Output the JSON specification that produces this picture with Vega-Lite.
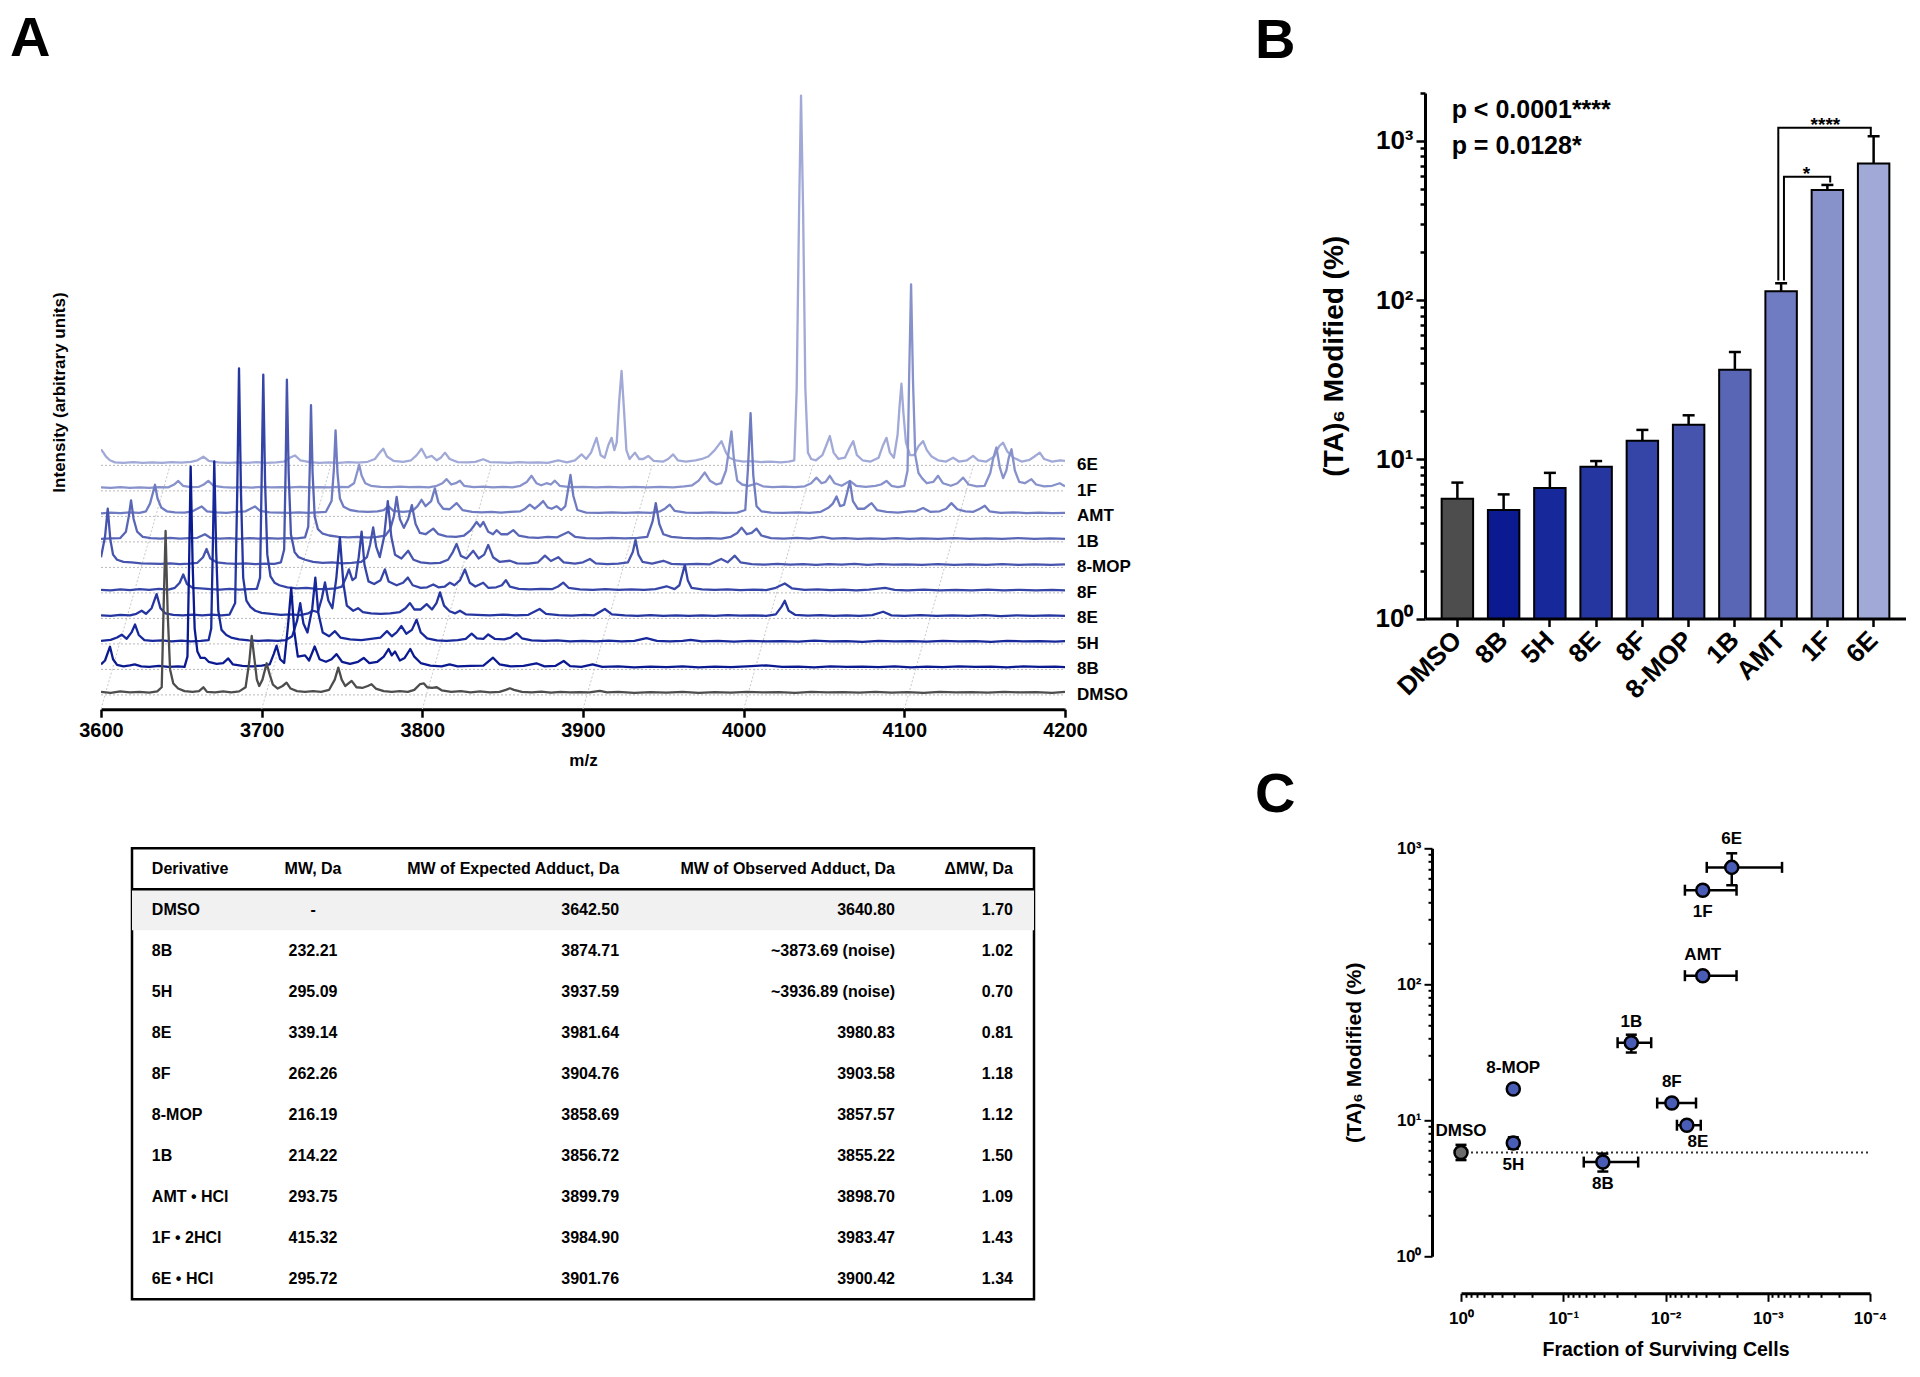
{
"$schema": "https://vega.github.io/schema/vega-lite/v6.json",
"background": "white",
"padding": {"left": 10, "top": 10, "right": 0, "bottom": 0},
"columns": 2,
"align": "each",
"bounds": "flush",
"center": {"row": false, "column": true},
"spacing": {"row": 138.3, "column": 360},
"config": {
  "font": "Liberation Sans",
  "view": {"stroke": null},
  "axis": {"labelFont": "Liberation Sans", "titleFont": "Liberation Sans", "labelColor": "black", "titleColor": "black", "grid": false, "domainColor": "black", "tickColor": "black", "labelFlush": false, "labelOverlap": false, "labelBound": false},
  "title": {"font": "Liberation Sans", "fontSize": 56, "fontWeight": "bold", "anchor": "start", "frame": "group", "color": "black", "baseline": "alphabetic"}
},
"datasets": {
  "base": [{"s":"DMSO","lvl":0},{"s":"8B","lvl":1},{"s":"5H","lvl":2},{"s":"8E","lvl":3},{"s":"8F","lvl":4},{"s":"8-MOP","lvl":5},{"s":"1B","lvl":6},{"s":"AMT","lvl":7},{"s":"1F","lvl":8},{"s":"6E","lvl":9}],
  "diag": [{"x1":3600,"y1":-0.56,"x2":3643,"y2":9},{"x1":3700,"y1":-0.56,"x2":3743,"y2":9},{"x1":3800,"y1":-0.56,"x2":3843,"y2":9},{"x1":3900,"y1":-0.56,"x2":3943,"y2":9},{"x1":4000,"y1":-0.56,"x2":4043,"y2":9},{"x1":4100,"y1":-0.56,"x2":4143,"y2":9},{"x1":4200,"y1":-0.56,"x2":4243,"y2":9}],
  "spec": [
    {"s":"6E","p":[[3600,9.63],[3601.5,9.5],[3603,9.35],[3605.5,9.2],[3608.7,9.12],[3614,9.1],[3620,9.13],[3626,9.1],[3632,9.12],[3638,9.1],[3644,9.13],[3650,9.11],[3656,9.14],[3660,9.2],[3663.7,9.34],[3667,9.18],[3673,9.12],[3679,9.1],[3685,9.12],[3691,9.1],[3697,9.13],[3703,9.1],[3709,9.12],[3714,9.15],[3717.5,9.3],[3720.7,9.39],[3724,9.2],[3730,9.13],[3736,9.1],[3742,9.12],[3748,9.1],[3754,9.13],[3760,9.11],[3766,9.14],[3770.5,9.25],[3773.5,9.5],[3775.7,9.65],[3778,9.35],[3782,9.18],[3788,9.14],[3793,9.2],[3796.5,9.4],[3799.5,9.65],[3802.5,9.3],[3805.8,9.37],[3809,9.2],[3811.5,9.3],[3814.1,9.5],[3817,9.25],[3822,9.13],[3828,9.12],[3833,9.14],[3837.9,9.24],[3842,9.13],[3848,9.12],[3854,9.1],[3860,9.13],[3866,9.11],[3872,9.12],[3878,9.1],[3884.6,9.2],[3890,9.12],[3895,9.2],[3899.1,9.43],[3902,9.25],[3905,9.5],[3908.4,10.08],[3911,9.4],[3913.5,9.3],[3915.8,9.8],[3917.8,10.08],[3919.5,9.6],[3921,9.9],[3922.5,11.5],[3924,12.7],[3925.5,11.2],[3927,9.6],[3929,9.25],[3932.3,9.5],[3935,9.25],[3937.5,9.25],[3940.6,9.37],[3944,9.18],[3950,9.15],[3953,9.25],[3956.1,9.43],[3959,9.2],[3964,9.15],[3970,9.2],[3974,9.25],[3978,9.35],[3982,9.6],[3986.2,9.95],[3989,9.5],[3991,9.3],[3995,9.2],[4000,9.15],[4005,9.17],[4011,9.13],[4017,9.15],[4023,9.12],[4028,9.15],[4031.5,9.2],[4033,12],[4034.5,19],[4035.7,23.5],[4037,19],[4038.4,12],[4040,9.5],[4042,9.25],[4045,9.2],[4049,9.4],[4051.5,9.8],[4053.6,10.15],[4056,9.5],[4059,9.25],[4063,9.3],[4066,9.7],[4068.2,9.95],[4070.5,9.4],[4074,9.2],[4079,9.15],[4084,9.3],[4086.8,9.8],[4088.9,10.08],[4091,9.5],[4093.5,9.3],[4095.8,10.2],[4097,11.3],[4098.2,12.2],[4099.5,11.0],[4101,9.9],[4103.5,9.4],[4106,9.4],[4108.8,9.75],[4111.7,9.95],[4114,9.6],[4117,9.35],[4121,9.2],[4126,9.15],[4130.4,9.3],[4134,9.15],[4139,9.2],[4142.8,9.37],[4146,9.2],[4151,9.15],[4156,9.35],[4159,9.75],[4161.5,9.89],[4164,9.55],[4168,9.3],[4173,9.15],[4178,9.22],[4181,9.35],[4184.3,9.5],[4187,9.25],[4192,9.15],[4197,9.2],[4200,9.18]]},
    {"s":"1F","p":[[3600,8.14],[3606,8.12],[3612,8.15],[3618,8.12],[3624,8.14],[3630,8.12],[3636,8.15],[3642,8.14],[3645.5,8.25],[3648.1,8.39],[3651,8.2],[3656,8.15],[3661,8.16],[3664,8.25],[3666.8,8.39],[3670,8.2],[3676,8.15],[3682,8.13],[3688,8.15],[3694,8.13],[3700,8.16],[3706,8.14],[3712,8.15],[3718,8.14],[3724,8.16],[3730,8.14],[3736,8.15],[3742,8.14],[3748,8.16],[3754,8.15],[3757.5,8.3],[3759.3,8.7],[3760.7,9.02],[3762.2,8.6],[3764.5,8.3],[3768,8.2],[3774,8.16],[3780,8.15],[3786,8.17],[3792,8.15],[3798,8.16],[3804,8.14],[3809,8.2],[3812.5,8.3],[3815.1,8.46],[3818,8.25],[3820.8,8.3],[3823.4,8.4],[3826,8.2],[3832,8.15],[3838,8.17],[3844,8.14],[3850,8.16],[3856,8.14],[3861,8.2],[3865,8.35],[3868,8.59],[3871,8.3],[3874,8.22],[3877.3,8.3],[3880,8.25],[3882.5,8.4],[3885.5,8.2],[3892,8.15],[3900,8.16],[3908,8.14],[3916,8.16],[3924,8.14],[3932,8.16],[3940,8.14],[3948,8.16],[3956,8.14],[3963,8.18],[3968,8.22],[3972,8.4],[3975.8,8.72],[3979,8.4],[3983,8.25],[3986,8.3],[3989,8.8],[3990.8,9.6],[3992.4,10.33],[3994,9.2],[3996,8.4],[3999,8.25],[4003,8.2],[4008,8.29],[4012,8.18],[4018,8.15],[4025,8.17],[4032,8.15],[4038,8.18],[4042,8.3],[4045.3,8.52],[4048.5,8.3],[4051,8.35],[4053.6,8.59],[4056.5,8.3],[4061,8.2],[4066.1,8.39],[4070,8.2],[4076,8.16],[4082,8.2],[4085.5,8.25],[4088.9,8.39],[4092,8.2],[4096,8.15],[4100,8.2],[4102,8.8],[4103,12.5],[4104.2,16.1],[4105.4,12.3],[4106.8,9.4],[4108.8,8.7],[4111,8.5],[4114,8.3],[4118,8.35],[4121,8.59],[4124,8.3],[4129,8.2],[4133,8.3],[4136.6,8.52],[4140,8.25],[4145,8.18],[4150,8.2],[4153.5,8.7],[4155.4,9.3],[4157.3,9.7],[4159.5,8.9],[4161.5,8.5],[4163.5,8.8],[4165,9.3],[4166.7,9.63],[4168.8,8.8],[4171.5,8.35],[4175,8.3],[4179.1,8.46],[4182,8.25],[4187,8.18],[4192,8.2],[4196.7,8.3],[4200,8.18]]},
    {"s":"AMT","p":[[3600,7.12],[3606,7.15],[3612,7.13],[3618,7.16],[3624,7.14],[3628,7.2],[3630.5,7.5],[3632.2,7.9],[3633.6,8.24],[3635.2,7.7],[3637.5,7.35],[3641,7.2],[3646,7.16],[3652,7.15],[3657,7.2],[3662.6,7.39],[3666,7.2],[3672,7.16],[3678,7.14],[3684,7.18],[3690,7.2],[3695.8,7.39],[3699,7.22],[3705,7.16],[3711,7.15],[3717,7.14],[3723,7.16],[3729,7.14],[3735,7.16],[3740,7.18],[3743.5,7.6],[3744.9,8.8],[3746,10.37],[3747.2,8.7],[3748.7,7.7],[3751,7.38],[3755,7.25],[3760,7.2],[3766,7.18],[3772,7.2],[3776,7.25],[3778.8,7.4],[3782,7.22],[3788,7.18],[3794,7.22],[3797,7.4],[3799.5,7.65],[3802,7.4],[3805.5,7.6],[3807.8,8.1],[3810,7.55],[3813,7.3],[3817,7.28],[3821.3,7.52],[3825,7.25],[3831,7.18],[3837,7.16],[3843,7.18],[3849,7.15],[3855,7.18],[3861,7.2],[3864,7.3],[3866.9,7.46],[3870,7.3],[3872.8,7.45],[3875.2,7.6],[3878,7.35],[3880.5,7.3],[3883.5,7.4],[3886.5,7.25],[3889,7.4],[3890.6,8.0],[3892.2,8.63],[3894,7.8],[3896.5,7.25],[3902,7.15],[3910,7.14],[3918,7.16],[3926,7.14],[3934,7.16],[3942,7.14],[3948,7.2],[3951,7.3],[3954,7.46],[3957,7.22],[3964,7.15],[3972,7.14],[3980,7.16],[3988,7.14],[3996,7.15],[4001,7.25],[4002.6,8.8],[4004.3,11.05],[4006,8.6],[4008,7.4],[4011,7.2],[4017,7.15],[4025,7.14],[4033,7.16],[4041,7.14],[4048,7.18],[4053,7.35],[4055.5,7.5],[4057.8,7.78],[4060,7.4],[4062.5,7.45],[4064.3,7.9],[4066.1,8.37],[4068,7.6],[4071,7.3],[4075,7.3],[4079.6,7.52],[4083,7.25],[4089,7.18],[4096,7.15],[4103,7.2],[4107,7.2],[4111.7,7.33],[4116,7.18],[4122,7.2],[4126,7.3],[4129.3,7.52],[4133,7.28],[4138,7.2],[4143,7.18],[4147,7.3],[4150.1,7.42],[4153,7.2],[4160,7.14],[4168,7.16],[4176,7.13],[4184,7.15],[4192,7.13],[4200,7.14]]},
    {"s":"1B","p":[[3600,6.12],[3606,6.14],[3612,6.15],[3615.5,6.4],[3617.3,7.0],[3618.7,7.63],[3620.3,6.9],[3622.5,6.4],[3626,6.2],[3631,6.15],[3637,6.13],[3643,6.16],[3649,6.13],[3655,6.15],[3660,6.16],[3664.7,6.3],[3668,6.16],[3674,6.13],[3680,6.15],[3686,6.12],[3692,6.15],[3698,6.13],[3704,6.15],[3710,6.13],[3716,6.15],[3722,6.14],[3727,6.18],[3729,6.6],[3729.9,8.8],[3730.7,11.36],[3731.7,8.7],[3733,7.0],[3735,6.5],[3738,6.32],[3742,6.25],[3748,6.2],[3754,6.18],[3760,6.2],[3766,6.17],[3772,6.2],[3777,6.25],[3780,6.5],[3782.3,7.0],[3784,7.76],[3786,6.9],[3788.5,6.55],[3791.2,6.9],[3793.5,7.44],[3795.8,6.7],[3798.5,6.35],[3802,6.3],[3806.8,6.52],[3810,6.3],[3815,6.22],[3821,6.2],[3826,6.25],[3830,6.45],[3833.8,6.78],[3836,6.6],[3838,6.78],[3841,6.4],[3844,6.3],[3846.2,6.46],[3849,6.3],[3853,6.3],[3856.6,6.46],[3860,6.25],[3866,6.18],[3872,6.16],[3878,6.2],[3884,6.18],[3890.8,6.39],[3895,6.2],[3902,6.15],[3910,6.14],[3918,6.16],[3926,6.14],[3934,6.16],[3940,6.2],[3943.3,6.8],[3945.3,7.52],[3947.5,6.7],[3950,6.3],[3955,6.2],[3962,6.16],[3970,6.14],[3978,6.15],[3986,6.13],[3992,6.2],[3996,6.35],[3998.7,6.56],[4002,6.3],[4005,6.35],[4008,6.52],[4011,6.25],[4017,6.15],[4025,6.13],[4033,6.16],[4041,6.13],[4049,6.2],[4055,6.13],[4063,6.15],[4071,6.12],[4079,6.14],[4087,6.12],[4095,6.15],[4103,6.12],[4111,6.14],[4121,6.12],[4131,6.15],[4141,6.12],[4151,6.14],[4161,6.12],[4171,6.15],[4181,6.12],[4191,6.14],[4200,6.12]]},
    {"s":"8-MOP","p":[[3600,5.4],[3602.5,6.2],[3604.2,7.3],[3605.8,6.1],[3607.5,5.5],[3610,5.3],[3614,5.22],[3619,5.2],[3625,5.16],[3631,5.15],[3637,5.14],[3643,5.16],[3649,5.13],[3655,5.15],[3660,5.18],[3663.5,5.4],[3665.7,5.72],[3668,5.35],[3672,5.2],[3678,5.16],[3684,5.14],[3690,5.16],[3696,5.13],[3702,5.15],[3708,5.14],[3712,5.2],[3714,5.7],[3714.9,8.8],[3715.7,12.36],[3716.8,8.7],[3718.2,6.3],[3720.5,5.6],[3723,5.4],[3727,5.3],[3732,5.22],[3738,5.18],[3744,5.2],[3750,5.16],[3756,5.18],[3762,5.22],[3765.5,5.4],[3767.5,5.9],[3769.4,6.57],[3771.3,5.8],[3773.5,5.4],[3776.2,6.2],[3778.5,7.6],[3780.7,6.2],[3783,5.5],[3787,5.35],[3791.2,5.65],[3794.5,5.3],[3799,5.2],[3805,5.16],[3811,5.18],[3816,5.3],[3819,5.6],[3821.3,5.92],[3824,5.45],[3827.5,5.35],[3831.7,5.65],[3835,5.35],[3838.5,5.5],[3841,5.88],[3844,5.4],[3848,5.22],[3854.5,5.26],[3859,5.16],[3866,5.15],[3872,5.2],[3876.3,5.46],[3880,5.25],[3884.6,5.4],[3888,5.2],[3895,5.15],[3900,5.2],[3904.3,5.33],[3908,5.16],[3915,5.13],[3922,5.15],[3928,5.2],[3931,5.6],[3932.7,6.08],[3934.5,5.5],[3937,5.22],[3943,5.15],[3950,5.26],[3955,5.14],[3963,5.12],[3971,5.14],[3979,5.12],[3986,5.33],[3990,5.2],[3994.5,5.46],[3998,5.2],[4005,5.13],[4013,5.11],[4021,5.14],[4029,5.11],[4037,5.13],[4045,5.1],[4053,5.13],[4061,5.11],[4069,5.14],[4077,5.1],[4085,5.13],[4093,5.11],[4101,5.12],[4111,5.1],[4121,5.13],[4131,5.1],[4141,5.12],[4151,5.1],[4161,5.13],[4171,5.1],[4181,5.12],[4191,5.1],[4200,5.12]]},
    {"s":"8F","p":[[3600,4.12],[3606,4.1],[3612,4.14],[3618,4.11],[3624,4.15],[3630,4.12],[3636,4.16],[3642,4.13],[3646,4.2],[3649,4.4],[3651.2,4.72],[3653.5,4.35],[3657,4.2],[3662,4.18],[3668,4.15],[3674,4.13],[3680,4.16],[3686,4.13],[3692,4.15],[3697,4.16],[3699,4.6],[3700,8.5],[3701,12.56],[3702.1,8.4],[3703.5,5.5],[3705.5,4.65],[3708,4.4],[3711,4.3],[3716,4.22],[3722,4.18],[3728,4.2],[3734,4.16],[3740,4.15],[3746,4.18],[3750,4.25],[3752.5,4.6],[3754.3,4.92],[3756.5,4.5],[3758.5,4.6],[3760.4,5.4],[3762.2,6.4],[3764,5.1],[3766.5,4.45],[3770,4.35],[3774,4.5],[3776.7,4.92],[3779,4.45],[3784,4.3],[3788,4.4],[3791,4.6],[3794,4.3],[3799,4.2],[3803,4.22],[3806.8,4.33],[3810,4.22],[3814,4.25],[3817.2,4.4],[3820,4.3],[3823.5,4.5],[3826.5,4.92],[3829.5,4.4],[3833,4.25],[3837.9,4.4],[3841,4.2],[3846,4.22],[3849.5,4.3],[3852,4.5],[3854.5,4.25],[3860,4.16],[3867,4.14],[3874,4.16],[3881,4.15],[3884.5,4.25],[3887.7,4.4],[3891,4.2],[3898,4.14],[3906,4.12],[3914,4.15],[3922,4.12],[3930,4.14],[3938,4.12],[3945,4.15],[3952,4.26],[3957,4.15],[3960,4.3],[3961.7,4.7],[3963.4,5.1],[3965.2,4.5],[3967.5,4.2],[3974,4.14],[3982,4.12],[3990,4.14],[3998,4.11],[4006,4.13],[4014,4.11],[4020,4.2],[4025.6,4.37],[4030,4.18],[4038,4.12],[4046,4.14],[4054,4.11],[4062,4.13],[4070,4.1],[4078,4.13],[4088,4.2],[4094,4.12],[4102,4.1],[4112,4.13],[4122,4.1],[4132,4.12],[4142,4.1],[4152,4.13],[4162,4.1],[4172,4.12],[4182,4.1],[4192,4.12],[4200,4.1]]},
    {"s":"8E","p":[[3600,3.12],[3606,3.1],[3612,3.14],[3618,3.12],[3622,3.18],[3625.3,3.3],[3628,3.18],[3631.5,3.4],[3634.6,3.95],[3637,3.4],[3640,3.2],[3645,3.14],[3651,3.12],[3657,3.15],[3663,3.12],[3669,3.15],[3675,3.12],[3680,3.15],[3683.5,3.6],[3684.8,8],[3685.9,12.8],[3687.1,8],[3688.5,4.6],[3690.5,3.7],[3693,3.45],[3696,3.3],[3700,3.22],[3706,3.18],[3712,3.14],[3718,3.16],[3724,3.13],[3729,3.2],[3732,3.3],[3735,3.25],[3737.5,3.8],[3739.4,4.41],[3741.5,3.7],[3744,3.4],[3746.5,4.6],[3748.7,6.18],[3750.8,4.4],[3753,3.5],[3757,3.3],[3760,3.4],[3763,3.25],[3768,3.2],[3774,3.18],[3780,3.2],[3786,3.25],[3789.5,3.4],[3792.3,3.6],[3795,3.35],[3799,3.35],[3802.7,3.56],[3806,3.35],[3808.8,3.6],[3811,4.02],[3813.5,3.5],[3817,3.28],[3820.5,3.2],[3823.4,3.3],[3827,3.16],[3834,3.14],[3842,3.12],[3850,3.15],[3858,3.12],[3866,3.14],[3873,3.37],[3877,3.18],[3885,3.13],[3893,3.11],[3901,3.14],[3907,3.12],[3913.6,3.37],[3918,3.16],[3926,3.12],[3934,3.1],[3942,3.13],[3950,3.1],[3958,3.12],[3966,3.1],[3974,3.12],[3982,3.1],[3990,3.13],[3998,3.11],[4006,3.12],[4014,3.1],[4020,3.16],[4023.5,3.45],[4025.6,3.69],[4028,3.3],[4032,3.14],[4040,3.11],[4048,3.13],[4056,3.1],[4064,3.12],[4072,3.1],[4080,3.13],[4086.8,3.26],[4092,3.12],[4100,3.1],[4110,3.13],[4120,3.1],[4130,3.12],[4140,3.1],[4150,3.13],[4160,3.09],[4170,3.12],[4180,3.1],[4190,3.12],[4200,3.1]]},
    {"s":"5H","p":[[3600,2.12],[3606,2.16],[3610,2.25],[3612.9,2.36],[3616,2.2],[3619,2.45],[3621.2,2.76],[3623.5,2.35],[3627,2.15],[3632,2.12],[3638,2.14],[3644,2.1],[3650,2.13],[3656,2.1],[3662,2.12],[3667,2.15],[3668.6,2.6],[3669.6,5.8],[3670.5,9.16],[3671.7,5.6],[3673,3.3],[3675,2.55],[3678,2.35],[3681,2.25],[3686,2.18],[3692,2.14],[3698,2.12],[3704,2.14],[3710,2.12],[3715,2.15],[3719,2.3],[3722,2.9],[3724,3.6],[3726,2.8],[3728.5,2.45],[3731.5,3.4],[3733.4,4.6],[3735.3,3.2],[3738,2.45],[3742,2.3],[3745.6,2.5],[3749,2.25],[3755,2.18],[3762,2.15],[3768,2.2],[3774,2.25],[3778,2.5],[3781,2.3],[3784,2.45],[3787,2.7],[3790,2.4],[3793.5,2.55],[3796.4,2.95],[3799,2.45],[3803,2.22],[3809,2.14],[3815,2.12],[3822,2.15],[3827,2.2],[3830.7,2.4],[3834,2.22],[3838,2.2],[3841,2.37],[3845,2.2],[3851,2.18],[3855,2.25],[3858.7,2.42],[3862,2.22],[3868,2.14],[3876,2.12],[3884,2.14],[3892,2.1],[3900,2.12],[3908,2.1],[3916,2.13],[3924,2.1],[3932,2.12],[3939.5,2.23],[3946,2.12],[3954,2.1],[3962,2.12],[3967,2.16],[3974,2.1],[3984,2.12],[3994,2.09],[4004,2.12],[4014,2.1],[4024,2.11],[4034,2.09],[4044,2.13],[4054,2.1],[4064,2.11],[4074,2.08],[4084,2.12],[4094,2.1],[4104,2.11],[4114,2.09],[4124,2.12],[4134,2.1],[4144,2.11],[4154,2.08],[4164,2.12],[4174,2.1],[4184,2.11],[4194,2.09],[4200,2.11]]},
    {"s":"8B","p":[[3600,1.2],[3602.5,1.35],[3605.6,1.89],[3607.5,1.4],[3610,1.18],[3614,1.12],[3618,1.16],[3621,1.2],[3625,1.12],[3630,1.1],[3636,1.14],[3642,1.1],[3648,1.12],[3652,1.1],[3653.8,1.5],[3654.8,5],[3655.8,8.95],[3657,5.2],[3658.3,2.6],[3660,1.7],[3662,1.45],[3664.7,1.45],[3667,1.3],[3672,1.22],[3676,1.25],[3679.2,1.43],[3682,1.2],[3688,1.14],[3694,1.12],[3700,1.15],[3705,1.2],[3707.5,1.6],[3709.3,1.93],[3711.5,1.4],[3714,1.25],[3716.5,2.8],[3718.4,4.2],[3720.3,2.5],[3722.5,1.5],[3727,1.55],[3729.5,1.35],[3733,1.9],[3736,1.4],[3740,1.3],[3743.5,1.4],[3746.6,1.6],[3750,1.3],[3755,1.22],[3760,1.3],[3763.5,1.45],[3767,1.25],[3772,1.3],[3776,1.5],[3779,1.8],[3781,1.55],[3783,1.7],[3786,1.35],[3789,1.45],[3792.5,1.8],[3795,1.5],[3799,1.25],[3805,1.15],[3812,1.12],[3817,1.2],[3822,1.12],[3830,1.14],[3838,1.15],[3844,1.46],[3848,1.2],[3855,1.12],[3863,1.14],[3871,1.24],[3876,1.12],[3883,1.14],[3888,1.33],[3892,1.13],[3899,1.1],[3906,1.2],[3912,1.1],[3922,1.12],[3932,1.08],[3942,1.11],[3952,1.09],[3962,1.12],[3972,1.08],[3982,1.11],[3992,1.09],[4002,1.12],[4014,1.16],[4024,1.1],[4034,1.11],[4044,1.08],[4054,1.12],[4064,1.1],[4074,1.11],[4084,1.09],[4094,1.12],[4104,1.08],[4114,1.11],[4124,1.09],[4134,1.12],[4144,1.1],[4154,1.11],[4164,1.08],[4174,1.12],[4184,1.1],[4194,1.11],[4200,1.09]]},
    {"s":"DMSO","p":[[3600,0.12],[3606,0.08],[3612,0.14],[3618,0.1],[3624,0.12],[3630,0.09],[3635,0.14],[3637.8,0.3],[3639,3.5],[3640.2,6.43],[3641.5,3.2],[3643,1.0],[3645,0.45],[3648,0.25],[3652,0.15],[3657,0.12],[3661,0.15],[3663.7,0.3],[3666,0.12],[3671,0.1],[3676,0.14],[3681,0.1],[3686,0.14],[3690,0.3],[3692.3,1.3],[3693.8,2.31],[3695.5,1.4],[3697,0.6],[3698.5,0.35],[3700.5,0.6],[3703.1,1.24],[3705,0.8],[3707,0.4],[3710,0.25],[3713,0.35],[3715.5,0.48],[3718,0.25],[3722,0.15],[3727,0.12],[3732,0.15],[3737,0.12],[3742,0.2],[3745.5,0.6],[3747.7,1.07],[3749.8,0.6],[3752,0.35],[3756,0.55],[3759,0.3],[3763,0.28],[3766,0.35],[3768.4,0.42],[3771,0.25],[3776,0.15],[3781,0.12],[3786,0.15],[3791,0.12],[3795,0.2],[3798.5,0.42],[3801,0.45],[3803,0.3],[3806,0.28],[3809,0.3],[3812,0.18],[3818,0.12],[3824,0.15],[3830,0.1],[3836,0.14],[3842,0.1],[3848,0.12],[3852,0.2],[3854.5,0.26],[3857,0.2],[3862,0.12],[3868,0.1],[3874,0.13],[3880,0.09],[3886,0.12],[3892,0.1],[3898,0.11],[3904,0.1],[3910.5,0.16],[3915,0.1],[3922,0.12],[3932,0.08],[3942,0.11],[3952,0.09],[3962,0.12],[3972,0.08],[3982,0.11],[3992,0.09],[4002,0.12],[4012,0.1],[4022,0.11],[4032,0.08],[4042,0.12],[4052,0.1],[4062,0.11],[4072,0.09],[4082,0.12],[4092,0.09],[4102,0.11],[4112,0.08],[4122,0.12],[4132,0.1],[4142,0.11],[4152,0.09],[4162,0.12],[4172,0.1],[4182,0.11],[4192,0.08],[4200,0.12]]}
  ],
  "bars": [{"d":"DMSO","v":5.66,"e":7.14},{"d":"8B","v":4.8,"e":6.02},{"d":"5H","v":6.61,"e":8.22},{"d":"8E","v":8.97,"e":9.75},{"d":"8F","v":13.1,"e":15.3},{"d":"8-MOP","v":16.5,"e":18.9},{"d":"1B","v":36.5,"e":47.2},{"d":"AMT","v":113.8,"e":127.6},{"d":"1F","v":492,"e":529},{"d":"6E","v":721,"e":1070}],
  "brk": [{"b":"s4","o":1,"x":"AMT","y":133},{"b":"s4","o":2,"x":"AMT","y":1211},{"b":"s4","o":3,"x":"6E","y":1211},{"b":"s4","o":4,"x":"6E","y":1090},{"b":"s1","o":1,"x":"AMT","y":133},{"b":"s1","o":2,"x":"AMT","y":596},{"b":"s1","o":3,"x":"1F","y":596},{"b":"s1","o":4,"x":"1F","y":548}],
  "scat": [
    {"d":"DMSO","x":1,"y":5.8,"ylo":5.1,"yhi":6.6},
    {"d":"5H","x":0.308,"y":6.8,"ylo":6.18,"yhi":7.5},
    {"d":"8-MOP","x":0.308,"y":17.0},
    {"d":"8B","x":0.041,"xlo":0.0185,"xhi":0.063,"y":4.93,"ylo":4.2,"yhi":5.69},
    {"d":"1B","x":0.0216,"xlo":0.0138,"xhi":0.0294,"y":37.2,"ylo":31.5,"yhi":42.6},
    {"d":"8F","x":0.00867,"xlo":0.00503,"xhi":0.01206,"y":13.4},
    {"d":"8E","x":0.00618,"xlo":0.00452,"xhi":0.00773,"y":9.2},
    {"d":"AMT","x":0.00432,"xlo":0.00202,"xhi":0.00646,"y":115.7},
    {"d":"1F","x":0.00432,"xlo":0.00202,"xhi":0.00646,"y":492},
    {"d":"6E","x":0.00225,"xlo":0.000725,"xhi":0.00395,"y":724,"ylo":535,"yhi":919}
  ],
  "table": [
    {"r":"hdr","c1":"Derivative","c2":"MW, Da","c3":"MW of Expected Adduct, Da","c4":"MW of Observed Adduct, Da","c5":"ΔMW, Da"},
    {"r":"DMSO","c1":"DMSO","c2":"-","c3":"3642.50","c4":"3640.80","c5":"1.70"},
    {"r":"8B","c1":"8B","c2":"232.21","c3":"3874.71","c4":"~3873.69 (noise)","c5":"1.02"},
    {"r":"5H","c1":"5H","c2":"295.09","c3":"3937.59","c4":"~3936.89 (noise)","c5":"0.70"},
    {"r":"8E","c1":"8E","c2":"339.14","c3":"3981.64","c4":"3980.83","c5":"0.81"},
    {"r":"8F","c1":"8F","c2":"262.26","c3":"3904.76","c4":"3903.58","c5":"1.18"},
    {"r":"8-MOP","c1":"8-MOP","c2":"216.19","c3":"3858.69","c4":"3857.57","c5":"1.12"},
    {"r":"1B","c1":"1B","c2":"214.22","c3":"3856.72","c4":"3855.22","c5":"1.50"},
    {"r":"AMT","c1":"AMT • HCl","c2":"293.75","c3":"3899.79","c4":"3898.70","c5":"1.09"},
    {"r":"1F","c1":"1F • 2HCl","c2":"415.32","c3":"3984.90","c4":"3983.47","c5":"1.43"},
    {"r":"6E","c1":"6E • HCl","c2":"295.72","c3":"3901.76","c4":"3900.42","c5":"1.34"}
  ]
},
"concat": [
  {
    "width": 964, "height": 616.2,
    "title": {"text": "A", "dx": -91, "offset": 25.5},
    "layer": [
      {"data": {"name": "base"},
       "mark": {"type": "rule", "color": "#b8b8b8", "strokeDash": [2, 2], "strokeWidth": 1},
       "encoding": {
         "x": {"datum": 3600, "type": "quantitative", "scale": {"domain": [3600, 4200], "nice": false, "zero": false},
               "axis": {"title": "m/z", "values": [3600, 3700, 3800, 3900, 4000, 4100, 4200], "format": "d", "labelFontSize": 20, "labelFontWeight": "bold", "titleFontSize": 17, "titleFontWeight": "bold", "titlePadding": 12, "domainWidth": 3, "tickWidth": 2.5, "tickSize": 8, "labelPadding": 3}},
         "x2": {"datum": 4200},
         "y": {"field": "lvl", "type": "quantitative", "scale": {"domain": [-0.56, 23.6], "nice": false, "zero": false},
               "axis": {"title": "Intensity (arbitrary units)", "labels": false, "ticks": false, "domain": false, "titleFontSize": 17, "titleFontWeight": "bold", "titlePadding": 33, "titleY": 299}}
       }},
      {"data": {"name": "diag"},
       "mark": {"type": "rule", "color": "#c6c6c6", "strokeDash": [2, 2], "strokeWidth": 1, "clip": true},
       "encoding": {
         "x": {"field": "x1", "type": "quantitative", "title": "m/z"}, "x2": {"field": "x2"},
         "y": {"field": "y1", "type": "quantitative", "title": "Intensity (arbitrary units)"}, "y2": {"field": "y2"}
       }},
      {"data": {"name": "spec"},
       "transform": [{"flatten": ["p"]}],
       "mark": {"type": "line", "strokeWidth": 2.3, "clip": true, "strokeJoin": "round"},
       "encoding": {
         "x": {"field": "p[0]", "type": "quantitative", "title": "m/z"},
         "y": {"field": "p[1]", "type": "quantitative", "title": "Intensity (arbitrary units)"},
         "color": {"field": "s", "type": "nominal", "legend": null,
                   "scale": {"domain": ["DMSO","8B","5H","8E","8F","8-MOP","1B","AMT","1F","6E"],
                             "range": ["#4d4d4d","#0b1a90","#17289a","#2636a0","#3545a7","#4654ae","#5966b6","#707cc1","#8792cb","#a1a9d7"]}}
       }},
      {"data": {"name": "base"},
       "mark": {"type": "text", "align": "left", "baseline": "middle", "dx": 12, "fontSize": 17, "fontWeight": "bold", "color": "black"},
       "encoding": {
         "x": {"datum": 4200, "type": "quantitative"},
         "y": {"field": "lvl", "type": "quantitative", "title": "Intensity (arbitrary units)"},
         "text": {"field": "s"}
       }}
    ]
  },
  {
    "width": 481, "height": 525.5,
    "title": {"text": "B", "dx": -170, "offset": 10.5},
    "layer": [
      {"data": {"name": "bars"},
       "mark": {"type": "bar", "stroke": "black", "strokeWidth": 2},
       "encoding": {
         "x": {"field": "d", "type": "nominal",
               "scale": {"domain": ["DMSO","8B","5H","8E","8F","8-MOP","1B","AMT","1F","6E"], "paddingInner": 0.32, "paddingOuter": 0.36},
               "axis": {"title": null, "labelAngle": -45, "labelFontSize": 26, "labelFontWeight": "bold", "labelAlign": "right", "labelBaseline": "middle", "domainWidth": 3, "tickWidth": 2.5, "tickSize": 8, "labelPadding": 9}},
         "y": {"field": "v", "type": "quantitative",
               "scale": {"type": "log", "domain": [1, 2000], "nice": false},
               "axis": {"title": "(TA)₆ Modified (%)", "titleFontSize": 28, "titleFontWeight": "bold", "titlePadding": 27,
                        "values": [1,2,3,4,5,6,7,8,9,10,20,30,40,50,60,70,80,90,100,200,300,400,500,600,700,800,900,1000,2000],
                        "labelExpr": "datum.value == 1 ? '10⁰' : datum.value == 10 ? '10¹' : datum.value == 100 ? '10²' : datum.value == 1000 ? '10³' : ''",
                        "labelFontSize": 26, "labelFontWeight": "bold", "labelPadding": 3,
                        "tickSize": {"condition": {"test": "indexof([1,10,100,1000], datum.value) >= 0", "value": 9}, "value": 5},
                        "tickWidth": 2.5, "domainWidth": 3}},
         "y2": {"datum": 1},
         "color": {"field": "d", "type": "nominal", "legend": null,
                   "scale": {"domain": ["DMSO","8B","5H","8E","8F","8-MOP","1B","AMT","1F","6E"],
                             "range": ["#606060","#001a8e","#1b2f9b","#2c3fa3","#3f51ac","#5666b5","#6b79be","#7f8cc7","#94a0d1","#a8b0da"]}}
       }},
      {"data": {"name": "bars"},
       "mark": {"type": "rule", "color": "black", "strokeWidth": 2.5},
       "encoding": {"x": {"field": "d", "type": "nominal"}, "y": {"field": "v", "type": "quantitative", "title": "(TA)₆ Modified (%)"}, "y2": {"field": "e"}}},
      {"data": {"name": "bars"},
       "mark": {"type": "tick", "color": "black", "thickness": 2.5, "size": 12, "opacity": 1},
       "encoding": {"x": {"field": "d", "type": "nominal"}, "y": {"field": "e", "type": "quantitative", "title": "(TA)₆ Modified (%)"}}},
      {"data": {"name": "brk"},
       "transform": [{"filter": "datum.b === 's4'"}],
       "mark": {"type": "line", "color": "black", "strokeWidth": 2},
       "encoding": {"x": {"field": "x", "type": "nominal", "bandPosition": 0.41}, "y": {"field": "y", "type": "quantitative", "title": "(TA)₆ Modified (%)"}, "order": {"field": "o"}}},
      {"data": {"name": "brk"},
       "transform": [{"filter": "datum.b === 's1'"}],
       "mark": {"type": "line", "color": "black", "strokeWidth": 2},
       "encoding": {"x": {"field": "x", "type": "nominal", "bandPosition": 0.59}, "y": {"field": "y", "type": "quantitative", "title": "(TA)₆ Modified (%)"}, "order": {"field": "o"}}},
      {"data": {"values": [{"t": "****"}]},
       "mark": {"type": "text", "fontSize": 19, "fontWeight": "bold", "baseline": "alphabetic", "align": "center", "dx": -2, "dy": 3, "color": "black"},
       "encoding": {"x": {"datum": "1F", "type": "nominal"}, "y": {"datum": 1211, "type": "quantitative"}, "text": {"field": "t"}}},
      {"data": {"values": [{"t": "*"}]},
       "mark": {"type": "text", "fontSize": 19, "fontWeight": "bold", "baseline": "alphabetic", "align": "center", "dx": -21, "dy": 3, "color": "black"},
       "encoding": {"x": {"datum": "1F", "type": "nominal"}, "y": {"datum": 596, "type": "quantitative"}, "text": {"field": "t"}}},
      {"data": {"values": [{"t": "p < 0.0001****", "y": 1570}, {"t": "p = 0.0128*", "y": 930}]},
       "mark": {"type": "text", "fontSize": 25, "fontWeight": "bold", "baseline": "middle", "align": "left", "dx": 10, "color": "black"},
       "encoding": {"x": {"datum": "DMSO", "type": "nominal", "bandPosition": 0}, "y": {"field": "y", "type": "quantitative", "title": "(TA)₆ Modified (%)"}, "text": {"field": "t"}}}
    ]
  },
  {
    "width": 902, "height": 451,
    "view": {"stroke": "black", "strokeWidth": 2.5},
    "data": {"name": "table"},
    "encoding": {"y": {"field": "r", "type": "nominal", "scale": {"domain": ["hdr","DMSO","8B","5H","8E","8F","8-MOP","1B","AMT","1F","6E"], "paddingInner": 0, "paddingOuter": 0}, "axis": null}},
    "layer": [
      {"transform": [{"filter": "datum.r === 'DMSO'"}],
       "mark": {"type": "bar", "color": "#f1f1f1"},
       "encoding": {"x": {"datum": 0, "type": "quantitative", "scale": {"domain": [0, 1], "nice": false, "zero": false}, "axis": null}, "x2": {"datum": 1}}},
      {"transform": [{"filter": "datum.r === 'DMSO'"}],
       "mark": {"type": "rule", "color": "black", "strokeWidth": 2.5},
       "encoding": {"x": {"datum": 0, "type": "quantitative"}, "x2": {"datum": 1}, "y": {"field": "r", "type": "nominal", "bandPosition": 0}}},
      {"mark": {"type": "text", "align": "left", "baseline": "middle", "fontSize": 16, "fontWeight": "bold", "color": "black"},
       "encoding": {"x": {"datum": 0.022, "type": "quantitative"}, "text": {"field": "c1"}}},
      {"mark": {"type": "text", "align": "center", "baseline": "middle", "fontSize": 16, "fontWeight": "bold", "color": "black"},
       "encoding": {"x": {"datum": 0.2007, "type": "quantitative"}, "text": {"field": "c2"}}},
      {"mark": {"type": "text", "align": "right", "baseline": "middle", "fontSize": 16, "fontWeight": "bold", "color": "black"},
       "encoding": {"x": {"datum": 0.54, "type": "quantitative"}, "text": {"field": "c3"}}},
      {"mark": {"type": "text", "align": "right", "baseline": "middle", "fontSize": 16, "fontWeight": "bold", "color": "black"},
       "encoding": {"x": {"datum": 0.8459, "type": "quantitative"}, "text": {"field": "c4"}}},
      {"mark": {"type": "text", "align": "right", "baseline": "middle", "fontSize": 16, "fontWeight": "bold", "color": "black"},
       "encoding": {"x": {"datum": 0.9767, "type": "quantitative"}, "text": {"field": "c5"}}}
    ]
  },
  {
    "width": 481, "height": 408,
    "title": {"text": "C", "dx": -170, "offset": 6.7},
    "data": {"name": "scat"},
    "layer": [
      {"data": {"values": [{}]},
       "mark": {"type": "rule", "strokeDash": [2, 3], "color": "#333333", "strokeWidth": 2},
       "encoding": {
         "x": {"datum": 1, "type": "quantitative", "scale": {"type": "log", "domain": [0.0001, 1], "reverse": true, "nice": false, "range": [36, 445]},
               "axis": {"title": "Fraction of Surviving Cells", "titleFontSize": 19.5, "titleFontWeight": "bold", "titlePadding": 14, "offset": 37,
                        "values": [1,0.9,0.8,0.7,0.6,0.5,0.4,0.3,0.2,0.1,0.09,0.08,0.07,0.06,0.05,0.04,0.03,0.02,0.01,0.009,0.008,0.007,0.006,0.005,0.004,0.003,0.002,0.001,0.0009,0.0008,0.0007,0.0006,0.0005,0.0004,0.0003,0.0002,0.0001],
                        "labelExpr": "datum.value == 1 ? '10⁰' : datum.value == 0.1 ? '10⁻¹' : datum.value == 0.01 ? '10⁻²' : datum.value == 0.001 ? '10⁻³' : datum.value == 0.0001 ? '10⁻⁴' : ''",
                        "labelFontSize": 17, "labelFontWeight": "bold", "labelPadding": 9,
                        "tickSize": {"condition": {"test": "indexof([1,0.1,0.01,0.001,0.0001], datum.value) >= 0", "value": 8}, "value": 4},
                        "tickWidth": 2, "domainWidth": 3}},
         "x2": {"datum": 0.0001},
         "y": {"datum": 5.8, "type": "quantitative", "scale": {"type": "log", "domain": [1, 1000], "nice": false},
               "axis": {"title": "(TA)₆ Modified (%)", "titleFontSize": 21, "titleFontWeight": "bold", "titlePadding": 32, "offset": -7,
                        "values": [1,2,3,4,5,6,7,8,9,10,20,30,40,50,60,70,80,90,100,200,300,400,500,600,700,800,900,1000],
                        "labelExpr": "datum.value == 1 ? '10⁰' : datum.value == 10 ? '10¹' : datum.value == 100 ? '10²' : datum.value == 1000 ? '10³' : ''",
                        "labelFontSize": 17, "labelFontWeight": "bold", "labelPadding": 3,
                        "tickSize": {"condition": {"test": "indexof([1,10,100,1000], datum.value) >= 0", "value": 8}, "value": 4},
                        "tickWidth": 2, "domainWidth": 3}}
       }},
      {"transform": [{"filter": "isValid(datum.ylo)"}],
       "mark": {"type": "rule", "color": "black", "strokeWidth": 2.5},
       "encoding": {"x": {"field": "x", "type": "quantitative", "title": "Fraction of Surviving Cells"}, "y": {"field": "ylo", "type": "quantitative", "title": "(TA)₆ Modified (%)"}, "y2": {"field": "yhi"}}},
      {"transform": [{"filter": "isValid(datum.ylo)"}],
       "mark": {"type": "tick", "orient": "horizontal", "color": "black", "thickness": 2.5, "size": 11, "opacity": 1},
       "encoding": {"x": {"field": "x", "type": "quantitative", "title": "Fraction of Surviving Cells"}, "y": {"field": "ylo", "type": "quantitative", "title": "(TA)₆ Modified (%)"}}},
      {"transform": [{"filter": "isValid(datum.ylo)"}],
       "mark": {"type": "tick", "orient": "horizontal", "color": "black", "thickness": 2.5, "size": 11, "opacity": 1},
       "encoding": {"x": {"field": "x", "type": "quantitative", "title": "Fraction of Surviving Cells"}, "y": {"field": "yhi", "type": "quantitative", "title": "(TA)₆ Modified (%)"}}},
      {"transform": [{"filter": "isValid(datum.xlo)"}],
       "mark": {"type": "rule", "color": "black", "strokeWidth": 2.5},
       "encoding": {"x": {"field": "xlo", "type": "quantitative", "title": "Fraction of Surviving Cells"}, "x2": {"field": "xhi"}, "y": {"field": "y", "type": "quantitative", "title": "(TA)₆ Modified (%)"}}},
      {"transform": [{"filter": "isValid(datum.xlo)"}],
       "mark": {"type": "tick", "orient": "vertical", "color": "black", "thickness": 2.5, "size": 11, "opacity": 1},
       "encoding": {"x": {"field": "xlo", "type": "quantitative", "title": "Fraction of Surviving Cells"}, "y": {"field": "y", "type": "quantitative", "title": "(TA)₆ Modified (%)"}}},
      {"transform": [{"filter": "isValid(datum.xlo)"}],
       "mark": {"type": "tick", "orient": "vertical", "color": "black", "thickness": 2.5, "size": 11, "opacity": 1},
       "encoding": {"x": {"field": "xhi", "type": "quantitative", "title": "Fraction of Surviving Cells"}, "y": {"field": "y", "type": "quantitative", "title": "(TA)₆ Modified (%)"}}},
      {"mark": {"type": "circle", "size": 170, "stroke": "black", "strokeWidth": 2.5, "opacity": 1},
       "encoding": {"x": {"field": "x", "type": "quantitative", "title": "Fraction of Surviving Cells"}, "y": {"field": "y", "type": "quantitative", "title": "(TA)₆ Modified (%)"},
                    "fill": {"condition": {"test": "datum.d === 'DMSO'", "value": "#6b6b6b"}, "value": "#4a5db6"}}},
      {"transform": [{"filter": "indexof(['DMSO','8-MOP','1B','AMT','8F'], datum.d) >= 0"}],
       "mark": {"type": "text", "fontSize": 17, "fontWeight": "bold", "baseline": "middle", "align": "center", "dy": -21, "color": "black"},
       "encoding": {"x": {"field": "x", "type": "quantitative", "title": "Fraction of Surviving Cells"}, "y": {"field": "y", "type": "quantitative", "title": "(TA)₆ Modified (%)"}, "text": {"field": "d"}}},
      {"transform": [{"filter": "datum.d === '6E'"}],
       "mark": {"type": "text", "fontSize": 17, "fontWeight": "bold", "baseline": "middle", "align": "center", "dy": -28, "color": "black"},
       "encoding": {"x": {"field": "x", "type": "quantitative", "title": "Fraction of Surviving Cells"}, "y": {"field": "y", "type": "quantitative", "title": "(TA)₆ Modified (%)"}, "text": {"field": "d"}}},
      {"transform": [{"filter": "indexof(['5H','8B','1F'], datum.d) >= 0"}],
       "mark": {"type": "text", "fontSize": 17, "fontWeight": "bold", "baseline": "middle", "align": "center", "dy": 22, "color": "black"},
       "encoding": {"x": {"field": "x", "type": "quantitative", "title": "Fraction of Surviving Cells"}, "y": {"field": "y", "type": "quantitative", "title": "(TA)₆ Modified (%)"}, "text": {"field": "d"}}},
      {"transform": [{"filter": "datum.d === '8E'"}],
       "mark": {"type": "text", "fontSize": 17, "fontWeight": "bold", "baseline": "middle", "align": "center", "dx": 11, "dy": 17, "color": "black"},
       "encoding": {"x": {"field": "x", "type": "quantitative", "title": "Fraction of Surviving Cells"}, "y": {"field": "y", "type": "quantitative", "title": "(TA)₆ Modified (%)"}, "text": {"field": "d"}}}
    ]
  }
]
}
